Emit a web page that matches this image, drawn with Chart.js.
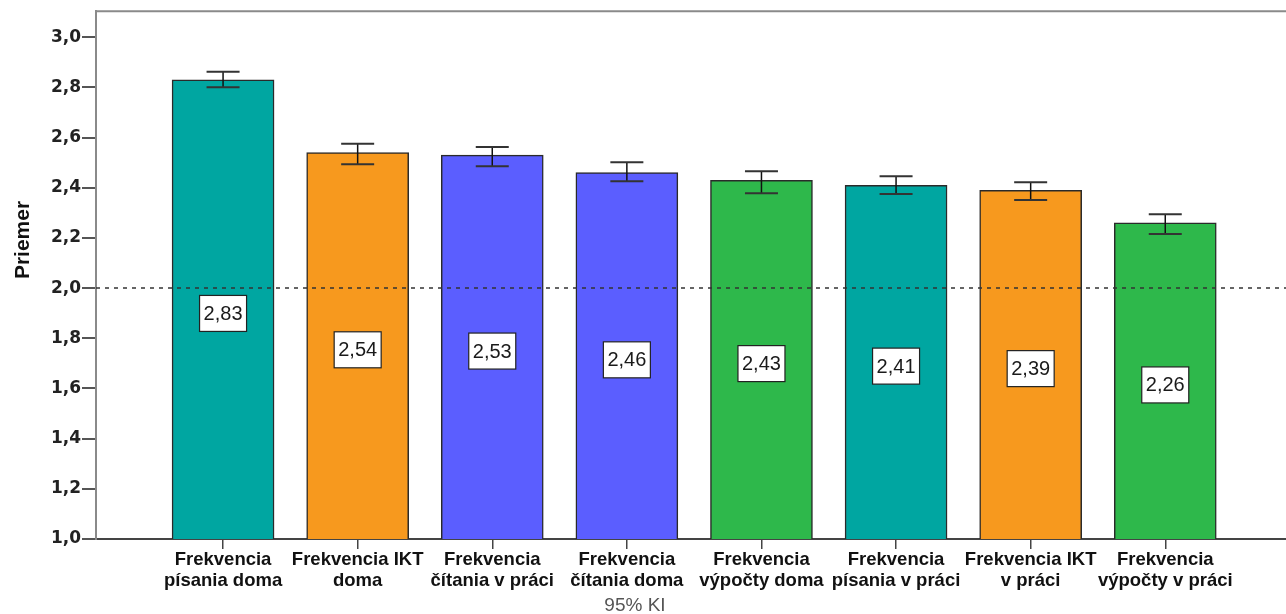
<!DOCTYPE html>
<html>
<head>
<meta charset="utf-8">
<script src="https://cdn.jsdelivr.net/npm/chart.js@4.4.1/dist/chart.umd.min.js"></script>
<style>
html,body{margin:0;padding:0;background:#fff;}
#wrap{width:1286px;height:614px;position:relative;}
</style>
</head>
<body>
<div id="wrap"><canvas id="c" width="1286" height="614"></canvas></div>
<script>
const categories = [
  ["Frekvencia", "písania doma"],
  ["Frekvencia IKT", "doma"],
  ["Frekvencia", "čítania v práci"],
  ["Frekvencia", "čítania doma"],
  ["Frekvencia", "výpočty doma"],
  ["Frekvencia", "písania v práci"],
  ["Frekvencia IKT", "v práci"],
  ["Frekvencia", "výpočty v práci"]
];
const means   = [2.83, 2.54, 2.53, 2.46, 2.43, 2.41, 2.39, 2.26];
const ciLower = [2.800, 2.494, 2.486, 2.426, 2.378, 2.375, 2.351, 2.216];
const ciUpper = [2.862, 2.575, 2.562, 2.502, 2.466, 2.446, 2.422, 2.294];
const yTicks  = [1.0, 1.2, 1.4, 1.6, 1.8, 2.0, 2.2, 2.4, 2.6, 2.8, 3.0];
const referenceValue = 2.0;
const yTitle = "Priemer";
const xTitle = "95% KI";

const barColors = ["#00A6A1", "#F7991E", "#5B5EFF", "#5B5EFF", "#2EB84B", "#00A6A1", "#F7991E", "#2EB84B"];

const fmt = v => v.toFixed(2).replace('.', ',');

const overlay = {
  id: 'overlay',
  afterDatasetsDraw(chart) {
    const ctx = chart.ctx, xs = chart.scales.x, ys = chart.scales.y, a = chart.chartArea;
    ctx.save();
    // top frame line
    ctx.strokeStyle = '#8a8a8a';
    ctx.lineWidth = 2;
    ctx.beginPath(); ctx.moveTo(a.left - 1, a.top); ctx.lineTo(a.right, a.top); ctx.stroke();
    // reference dashed line
    const yr = ys.getPixelForValue(referenceValue);
    ctx.strokeStyle = '#333';
    ctx.lineWidth = 1.5;
    ctx.setLineDash([4, 5]);
    ctx.beginPath(); ctx.moveTo(a.left, yr); ctx.lineTo(a.right, yr); ctx.stroke();
    ctx.setLineDash([]);
    // error bars
    means.forEach((m, i) => {
      const x = xs.getPixelForValue(i);
      const yl = ys.getPixelForValue(ciLower[i]);
      const yh = ys.getPixelForValue(ciUpper[i]);
      ctx.strokeStyle = '#111';
      ctx.lineWidth = 1.5;
      ctx.beginPath(); ctx.moveTo(x, yl); ctx.lineTo(x, yh); ctx.stroke();
      ctx.strokeStyle = '#333';
      ctx.lineWidth = 2;
      ctx.beginPath();
      ctx.moveTo(x - 16.5, yl); ctx.lineTo(x + 16.5, yl);
      ctx.moveTo(x - 16.5, yh); ctx.lineTo(x + 16.5, yh);
      ctx.stroke();
    });
    // value labels
    ctx.font = '20px "Liberation Sans", Arial, sans-serif';
    ctx.textAlign = 'center';
    ctx.textBaseline = 'middle';
    means.forEach((m, i) => {
      const x = xs.getPixelForValue(i);
      const yc = ys.getPixelForValue((ys.min + m) / 2) + 4;
      const w = 47, h = 36;
      ctx.fillStyle = '#fff';
      ctx.fillRect(x - w / 2, yc - h / 2, w, h);
      ctx.strokeStyle = '#222';
      ctx.lineWidth = 1.2;
      ctx.strokeRect(x - w / 2, yc - h / 2, w, h);
      ctx.fillStyle = '#1a1a1a';
      ctx.fillText(fmt(m), x, yc + 1);
    });
    // axis titles
    ctx.fillStyle = '#555';
    ctx.font = '19px "Liberation Sans", Arial, sans-serif';
    ctx.textBaseline = 'alphabetic';
    ctx.fillText(xTitle, a.left + 539, 611);
    ctx.save();
    ctx.translate(23, 240);
    ctx.rotate(-Math.PI / 2);
    ctx.fillStyle = '#111';
    ctx.font = 'bold 21px "Liberation Sans", Arial, sans-serif';
    ctx.textBaseline = 'middle';
    ctx.fillText(yTitle, 0, 0);
    ctx.restore();
    ctx.restore();
  }
};

new Chart(document.getElementById('c'), {
  type: 'bar',
  data: {
    datasets: [{
      data: means.map((m, i) => ({ x: i, y: m })),
      backgroundColor: barColors,
      borderColor: '#2a2a2a',
      borderWidth: 1.5,
      borderSkipped: false,
      barThickness: 102
    }]
  },
  options: {
    responsive: false,
    animation: false,
    devicePixelRatio: 1,
    layout: { padding: { top: 11, right: 0, left: 0, bottom: 0 } },
    plugins: { legend: { display: false }, tooltip: { enabled: false } },
    scales: {
      x: {
        type: 'linear',
        offset: false,
        min: -0.944,
        max: 7.897,
        afterBuildTicks: s => { s.ticks = categories.map((c, i) => ({ value: i })); },
        afterFit: s => { s.height = 75; },
        grid: { offset: false, drawOnChartArea: false, drawTicks: true, tickLength: 10, color: '#444', lineWidth: 1.5 },
        border: { display: true, color: '#444', width: 2 },
        ticks: {
          autoSkip: false,
          maxRotation: 0,
          padding: 1,
          color: '#111',
          font: { family: '"Liberation Sans", Arial, sans-serif', size: 18.5, weight: 'bold', lineHeight: 1.1 },
          callback: v => categories[v]
        }
      },
      y: {
        min: 1.0,
        max: 3.1036,
        afterBuildTicks: s => { s.ticks = yTicks.map(v => ({ value: v })); },
        afterFit: s => { s.width = 96; },
        grid: { drawOnChartArea: false, drawTicks: true, tickLength: 14, color: '#555', lineWidth: 2 },
        border: { display: true, color: '#8a8a8a', width: 2 },
        ticks: {
          padding: 1,
          color: '#222',
          font: { family: '"DejaVu Sans", sans-serif', size: 17, weight: 'bold' },
          callback: v => v.toFixed(1).replace('.', ',')
        }
      }
    }
  },
  plugins: [overlay]
});
</script>
</body>
</html>
